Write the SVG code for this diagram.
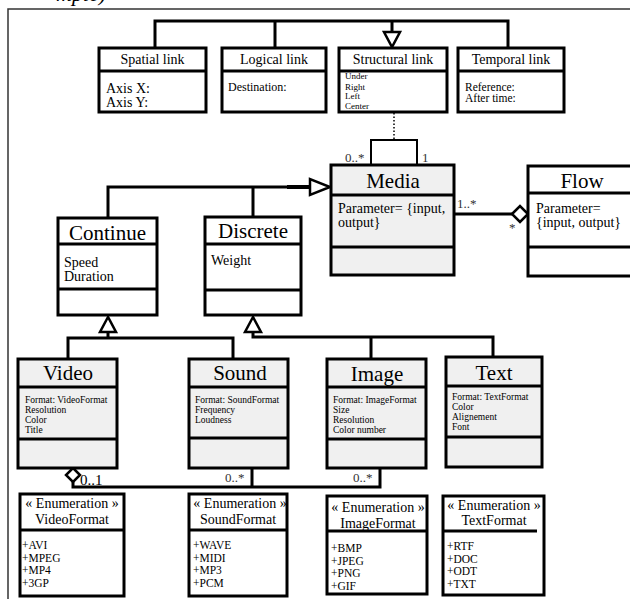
<svg xmlns="http://www.w3.org/2000/svg" width="630" height="599" viewBox="0 0 630 599">
<style>
text{font-family:"Liberation Serif","Times New Roman",serif;fill:#000}
.box{fill:#fff;stroke:#000;stroke-width:3}
.g{fill:#f0f0f0}
.dv{stroke:#000;stroke-width:3;fill:none}
.c{fill:none;stroke:#000;stroke-width:3}
.head{fill:#fff;stroke:#000;stroke-width:2.5}
.h14{font-size:14px;text-anchor:middle}
.h21{font-size:21px;text-anchor:middle}
.a14{font-size:14px}
.a12{font-size:12px}
.a11{font-size:11.5px}
.a9{font-size:9px}
.s9{font-size:9.5px}
.e12{font-size:11.5px}
.m{font-size:13px;fill:#333}
</style>
<rect x="8" y="9" width="640" height="600" fill="#fff" stroke="#333" stroke-width="1.5"/>
<text x="56" y="1" font-size="22" font-style="italic">mple)</text>

<g id="connectors">
<path class="c" d="M155,48 V21 H508 V48 M275,21 V48 M392,21 V32"/>
<polygon class="head" points="384,32 400,32 392,47"/>
<path d="M394,113 V139" stroke="#000" stroke-width="1.5" stroke-dasharray="1.5 2" fill="none"/>
<path d="M371,165 V140 H417 V165" fill="none" stroke="#000" stroke-width="2"/>
<path class="c" d="M108,218 V187 H310 M253,217 V187"/>
<path d="M287,187 H310" stroke="#000" stroke-width="4"/>
<polygon class="head" points="310,179 310,195 330,187"/>
<path class="c" d="M455,214 H512"/>
<polygon class="head" points="512,214 520,206 528,214 520,222"/>
<polygon class="head" points="108,317 100,332 116,332"/>
<path class="c" d="M108,332 V338 M68,359 V338 H233 V359"/>
<polygon class="head" points="253,317 245,332 261,332"/>
<path class="c" d="M253,332 V337 H493 V357 M371,337 V359"/>
<polygon class="head" points="73,468 80,475 73,482 66,475"/>
<path class="c" d="M73,482 V487 H380 V468 M252,468 V487"/>
<text class="m" x="345" y="162">0..*</text>
<text class="m" x="422" y="162">1</text>
<text class="m" x="457" y="208">1..*</text>
<text class="m" x="509" y="232">*</text>
<text x="80" y="485" font-size="15">0..1</text>
<text class="m" x="225" y="482">0..*</text>
<text class="m" x="353" y="482">0..*</text>
</g>

<g id="spatial-link">
<rect class="box" x="99" y="48" width="107" height="64"/>
<path class="dv" d="M99,71 H206"/>
<text class="h14" x="152.5" y="64">Spatial link</text>
<text class="a14" x="106" y="93">Axis X:</text>
<text class="a14" x="106" y="107">Axis Y:</text>
</g>
<g id="logical-link">
<rect class="box" x="222" y="48" width="104" height="64"/>
<path class="dv" d="M222,71 H326"/>
<text class="h14" x="274" y="64">Logical link</text>
<text class="a12" x="228" y="91">Destination:</text>
</g>
<g id="structural-link">
<rect class="box" x="339" y="48" width="108" height="64"/>
<path class="dv" d="M339,71 H447"/>
<text class="h14" x="393" y="64">Structural link</text>
<text class="a9" x="345" y="79">Under</text>
<text class="a9" x="345" y="90">Right</text>
<text class="a9" x="345" y="99">Left</text>
<text class="a9" x="345" y="109">Center</text>
</g>
<g id="temporal-link">
<rect class="box" x="458" y="48" width="106" height="64"/>
<path class="dv" d="M458,71 H564"/>
<text class="h14" x="511" y="64">Temporal link</text>
<text class="a11" x="465" y="91">Reference:</text>
<text class="a11" x="465" y="102">After time:</text>
</g>

<g id="media">
<rect class="box g" x="331" y="165" width="123" height="110"/>
<path class="dv" d="M331,195 H454 M331,247 H454"/>
<text class="h21" x="393" y="188">Media</text>
<text class="a14" x="338" y="213">Parameter= {input,</text>
<text class="a14" x="338" y="227">output}</text>
</g>
<g id="flow">
<rect class="box" x="528" y="166" width="112" height="110"/>
<path class="dv" d="M528,193 H640 M528,247 H640"/>
<text class="h21" x="582" y="188">Flow</text>
<text class="a14" x="536" y="213">Parameter=</text>
<text class="a14" x="536" y="227">{input, output}</text>
</g>

<g id="continue">
<rect class="box" x="58" y="218" width="99" height="97"/>
<path class="dv" d="M58,244 H157 M58,289 H157"/>
<text class="h21" x="107.5" y="240">Continue</text>
<text class="a14" x="64" y="267">Speed</text>
<text class="a14" x="64" y="281">Duration</text>
</g>
<g id="discrete">
<rect class="box" x="205" y="217" width="96" height="98"/>
<path class="dv" d="M205,244 H301 M205,290 H301"/>
<text class="h21" x="253" y="238">Discrete</text>
<text class="a14" x="211" y="265">Weight</text>
</g>

<g id="video">
<rect class="box g" x="18" y="359" width="99" height="109"/>
<path class="dv" d="M18,387 H117 M18,439 H117"/>
<text class="h21" x="68" y="380">Video</text>
<text class="s9" x="25" y="403">Format: VideoFormat</text>
<text class="s9" x="25" y="413">Resolution</text>
<text class="s9" x="25" y="423">Color</text>
<text class="s9" x="25" y="433">Title</text>
</g>
<g id="sound">
<rect class="box g" x="189" y="359" width="99" height="109"/>
<path class="dv" d="M189,387 H288 M189,438 H288"/>
<text class="h21" x="240" y="380">Sound</text>
<text class="s9" x="195" y="403">Format: SoundFormat</text>
<text class="s9" x="195" y="413">Frequency</text>
<text class="s9" x="195" y="423">Loudness</text>
</g>
<g id="image">
<rect class="box g" x="327" y="359" width="99" height="109"/>
<path class="dv" d="M327,387 H426 M327,439 H426"/>
<text class="h21" x="377" y="381">Image</text>
<text class="s9" x="333" y="403">Format: ImageFormat</text>
<text class="s9" x="333" y="413">Size</text>
<text class="s9" x="333" y="423">Resolution</text>
<text class="s9" x="333" y="433">Color number</text>
</g>
<g id="text">
<rect class="box g" x="446" y="357" width="96" height="110"/>
<path class="dv" d="M446,386 H542 M446,437 H542"/>
<text class="h21" x="494" y="380">Text</text>
<text class="s9" x="452" y="400">Format: TextFormat</text>
<text class="s9" x="452" y="410">Color</text>
<text class="s9" x="452" y="420">Alignement</text>
<text class="s9" x="452" y="430">Font</text>
</g>

<g id="videoformat">
<rect class="box" x="20" y="494" width="104" height="102"/>
<path class="dv" d="M20,530 H124"/>
<text class="h14" x="72" y="508">« Enumeration »</text>
<text class="h14" x="72" y="524">VideoFormat</text>
<text class="e12" x="22" y="549">+AVI</text>
<text class="e12" x="22" y="561.5">+MPEG</text>
<text class="e12" x="22" y="574">+MP4</text>
<text class="e12" x="22" y="586.5">+3GP</text>
</g>
<g id="soundformat">
<rect class="box" x="189" y="494" width="98" height="102"/>
<path class="dv" d="M189,530 H287"/>
<text class="h14" x="240" y="508">« Enumeration »</text>
<text class="h14" x="238" y="524">SoundFormat</text>
<text class="e12" x="193" y="549">+WAVE</text>
<text class="e12" x="193" y="561.5">+MIDI</text>
<text class="e12" x="193" y="574">+MP3</text>
<text class="e12" x="193" y="586.5">+PCM</text>
</g>
<g id="imageformat">
<rect class="box" x="327" y="496" width="100" height="98"/>
<path class="dv" d="M327,531 H427"/>
<text class="h14" x="378" y="512">« Enumeration »</text>
<text class="h14" x="378" y="528">ImageFormat</text>
<text class="e12" x="331" y="552">+BMP</text>
<text class="e12" x="331" y="564.5">+JPEG</text>
<text class="e12" x="331" y="577">+PNG</text>
<text class="e12" x="331" y="589.5">+GIF</text>
</g>
<g id="textformat">
<rect class="box" x="443" y="496" width="101" height="99"/>
<path class="dv" d="M443,531 H537"/>
<text class="h14" x="494" y="510">« Enumeration »</text>
<text class="h14" x="494" y="525">TextFormat</text>
<text class="e12" x="447" y="550">+RTF</text>
<text class="e12" x="447" y="562.5">+DOC</text>
<text class="e12" x="447" y="575">+ODT</text>
<text class="e12" x="447" y="587.5">+TXT</text>
</g>
</svg>
